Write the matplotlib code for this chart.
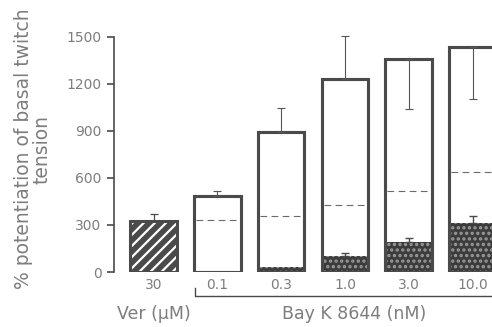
import numpy as np
import matplotlib.pyplot as plt

# data (% potentiation of basal twitch tension)
labels = ["30", "0.1", "0.3", "1.0", "3.0", "10.0"]
totals = [325, 485, 893, 1234, 1359, 1438]
total_err = [45, 34, 152, 274, 319, 336]
err_down = [False, False, False, False, True, True]
dashed = [None, 334, 359, 430, 517, 640]
stipple = [None, 6, 34, 104, 189, 311]
stipple_err = [None, 0, 0, 15, 30, 46]

text_c = "#7d7d7d"
bar_c = "#4a4a4a"

plt.rcParams["hatch.linewidth"] = 1.6

fig = plt.figure(figsize=(4.92, 3.27), dpi=100)
ax = fig.add_axes([114 / 492, 55 / 327, 1 - 114 / 492, 272 / 327])

x = np.arange(len(labels))
w = 0.73

# verapamil bar: dark fill with white diagonal stripes
ax.bar(x[0], totals[0], w, color=bar_c, edgecolor="white", hatch="///", linewidth=0)
ax.bar(x[0], totals[0], w, fill=False, edgecolor=bar_c, linewidth=2.2)
ax.errorbar(x[0], totals[0], yerr=[[0], [total_err[0]]], fmt="none",
            ecolor=bar_c, elinewidth=0.9, capsize=3, capthick=0.9)

# Bay K 8644 bars
for i in range(1, len(labels)):
    ax.bar(x[i], totals[i], w, color="white", edgecolor=bar_c, linewidth=2.2, zorder=2)
    ax.bar(x[i], stipple[i], w, color="#3c3c3c", edgecolor="#9a9a9a", hatch="...",
           linewidth=0, zorder=3)
    ax.bar(x[i], totals[i], w, fill=False, edgecolor=bar_c, linewidth=2.2, zorder=4)
    if err_down[i]:
        yerr = [[total_err[i]], [0]]
    else:
        yerr = [[0], [total_err[i]]]
    ax.errorbar(x[i], totals[i], yerr=yerr, fmt="none", ecolor="#555555",
                elinewidth=0.8, capsize=3, capthick=0.8, zorder=5)
    if stipple_err[i]:
        ax.errorbar(x[i], stipple[i], yerr=[[0], [stipple_err[i]]], fmt="none",
                    ecolor=bar_c, elinewidth=1.0, capsize=3, capthick=1.0, zorder=5)
    ax.hlines(dashed[i], x[i] - w / 2 + 0.03, x[i] + w / 2 - 0.03, colors="#6a6a6a",
              linestyles=(0, (6, 4)), linewidth=0.8, zorder=3)

ax.set_xlim(-0.62, 5.305)
ax.set_ylim(0, 1736)
ax.set_yticks([0, 300, 600, 900, 1200, 1500])
ax.set_xticks(x)
ax.set_xticklabels(labels)
ax.tick_params(axis="y", colors=bar_c, labelcolor=text_c, labelsize=10, length=5,
               width=1.2, pad=4)
ax.tick_params(axis="x", length=0, labelcolor=text_c, labelsize=10, pad=4)
for s in ["top", "right", "bottom"]:
    ax.spines[s].set_visible(False)
ax.spines["left"].set_bounds(0, 1500)
ax.spines["left"].set_color(bar_c)
ax.spines["left"].set_linewidth(1.2)

fig.text(33 / 492, 1 - 149 / 327, "% potentiation of basal twitch\ntension",
         rotation=90, ha="center", va="center", color=text_c, fontsize=13.5,
         linespacing=0.95)

# bracket under Bay K 8644 doses
ax.plot([0.65, 0.65, 5.4], [-100, -150, -150], color=bar_c, linewidth=1.0, clip_on=False)
ax.text(0, -270, "Ver (μM)", ha="center", va="center", color=text_c, fontsize=12.5)
ax.text(3.15, -270, "Bay K 8644 (nM)", ha="center", va="center", color=text_c,
        fontsize=12.5)

fig.savefig("out.png", dpi=100)
